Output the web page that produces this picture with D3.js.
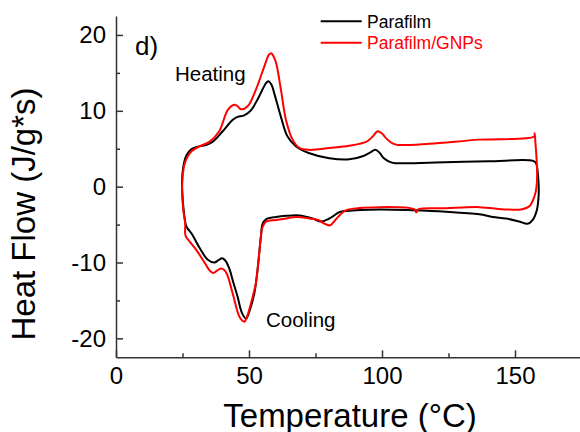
<!DOCTYPE html>
<html><head><meta charset="utf-8">
<script src="https://cdn.jsdelivr.net/npm/d3@7"></script>
<style>body{margin:0;background:#fff}svg{display:block}text{font-family:"Liberation Sans",Arial,sans-serif}</style>
</head><body>
<svg id="c" width="580" height="432"></svg>
<script>
// ---- data (temperature °C, heat flow J/g*s) ----
const xTicks = [0, 50, 100, 150];
const xMinorTicks = [25, 75, 125];
const yTicks = [-20, -10, 0, 10, 20];
const yMinorTicks = [-15, -5, 5, 15];
const seriesNames = ["Parafilm", "Parafilm/GNPs"];
const seriesColors = ["#000000", "#ff0000"];

const parafilm = [
  [24.8,0.3],[25.0,1.8],[25.6,3.2],[26.6,4.2],[28.2,4.9],[30.1,5.2],[33.8,5.5],[36.3,5.9],[40.1,7.3],
  [43.8,8.8],[45.7,9.2],[48.2,9.4],[50.8,10.1],[53.8,11.9],[56.3,13.6],[57.3,13.9],[58.5,13.4],[59.5,12.3],
  [62.0,9.2],[64.5,6.6],[67.7,5.3],[72.7,4.4],[80.2,3.75],[87.7,3.6],[92.7,4.0],[95.5,4.5],[97.5,4.85],
  [99.0,4.5],[100.5,3.8],[102.7,3.3],[105,3.1],[120,3.2],[140,3.35],[156.8,3.4],[157.9,3.1],[158.7,1.3],
  [158.9,-1.0],[158.2,-3.1],[156.6,-4.4],[154.7,-4.9],[151.6,-4.6],[146.6,-4.2],[141.6,-4.0],[136.6,-3.65],
  [124,-3.3],[111.5,-3.1],[99,-3.0],[86.5,-3.2],[84,-3.35],[82,-3.8],[80.2,-4.2],[77.1,-4.6],[73.9,-4.2],
  [68.9,-3.8],[64,-3.85],[60.2,-4.0],[56.4,-4.3],[55.1,-4.9],[54.5,-6.5],[53.2,-11.0],[52,-14.1],[50.1,-16.5],
  [48.9,-17.4],[47.3,-16.6],[45.7,-14.5],[44.0,-12.5],[42.6,-10.8],[41,-9.7],[39.8,-9.45],[38.5,-9.7],
  [37,-10.0],[34.4,-9.6],[31.3,-8.0],[28.8,-6.4],[26.9,-5.5],[26.3,-5.1],[25.3,-2.6],[24.8,0.3]
];
const parafilmGNPs = [
  [24.8,-0.5],[25.1,1.5],[25.7,2.9],[27.0,4.0],[28.5,4.7],[31.3,5.3],[35.1,5.9],[38.8,7.3],[42,10.1],
  [44.5,10.8],[45.7,10.6],[47,10.2],[49.5,10.6],[52.6,12.8],[55.8,15.9],[57.5,17.4],[58.3,17.6],[59.2,17.2],
  [60.2,16.3],[62,12.8],[63.9,8.8],[66.4,6.2],[68.9,5.1],[72.7,4.85],[80.2,5.1],[87.7,5.4],[94,5.9],
  [96.5,6.6],[98.3,7.3],[100,7.0],[101.5,6.4],[104,5.7],[106,5.5],[117.8,5.65],[136.6,6.2],[157.2,6.6],
  [157.4,7.05],[157.7,5.7],[158.3,2.2],[158.1,0],[157.3,-1.3],[155.4,-2.6],[152.3,-3.0],[146.6,-3.0],
  [136.6,-2.7],[124,-2.85],[113.6,-3.0],[112.9,-3.4],[112.2,-3.0],[99,-2.7],[86.5,-3.1],[84,-3.8],
  [82,-4.6],[80.5,-5.1],[78.5,-4.9],[76,-4.4],[72.7,-4.2],[67.7,-4.0],[64,-4.2],[60.2,-4.4],[56.4,-4.6],
  [55.1,-5.3],[54.5,-6.5],[53.5,-10],[52.6,-12.7],[51.4,-14.5],[49.5,-16.9],[48.3,-17.8],[47.3,-17.6],
  [46.2,-17.0],[43.8,-14.0],[41.8,-11.6],[40.7,-11.0],[39.5,-10.8],[38.3,-11.0],[36.5,-11.4],[35.1,-11.0],
  [33.8,-10.3],[30.1,-8.3],[27.6,-7.2],[26.3,-6.6],[26.0,-6.2],[26.0,-4.8],[25.3,-3.1],[24.8,-0.5]
];
const seriesData = [parafilm, parafilmGNPs];

// ---- drawing ----
const svg = d3.select("#c");
const x = d3.scaleLinear().domain([0, 175]).range([116, 581.5]);
const y = d3.scaleLinear().domain([-22.5, 22.5]).range([357.3, 16]);
const axisColor = "#333";

const line = d3.line().x(d => x(d[0])).y(d => y(d[1])).curve(d3.curveCatmullRom.alpha(0.5));
seriesData.forEach((s, i) => {
  svg.append("path").attr("d", line(s)).attr("fill", "none")
    .attr("stroke", seriesColors[i]).attr("stroke-width", 2).attr("stroke-linejoin", "round");
});

function styleAxis(g) {
  g.selectAll("path.domain").attr("stroke", axisColor).attr("stroke-width", 1.5);
  g.selectAll(".tick line").attr("stroke", axisColor).attr("stroke-width", 1.5);
  g.selectAll(".tick text").attr("fill", "#000").style("font-size", "24px")
    .style("font-family", '"Liberation Sans", Arial, sans-serif');
}

const gx = svg.append("g").attr("transform", `translate(0,${y(-22.5)})`)
  .call(d3.axisBottom(x).tickValues(xTicks).tickSizeInner(-7).tickSizeOuter(0).tickPadding(10).tickFormat(d3.format("d")));
styleAxis(gx);
const gxm = svg.append("g").attr("transform", `translate(0,${y(-22.5)})`)
  .call(d3.axisBottom(x).tickValues(xMinorTicks).tickSizeInner(-4).tickSizeOuter(0).tickFormat(""));
styleAxis(gxm); gxm.select("path.domain").remove();

const gy = svg.append("g").attr("transform", `translate(${x(0)},0)`)
  .call(d3.axisLeft(y).tickValues(yTicks).tickSizeInner(-7).tickSizeOuter(0).tickPadding(10).tickFormat(d3.format("d")));
styleAxis(gy);
gy.selectAll(".tick text").text(d => d < 0 ? "-" + Math.abs(d) : d);
const gym = svg.append("g").attr("transform", `translate(${x(0)},0)`)
  .call(d3.axisLeft(y).tickValues(yMinorTicks).tickSizeInner(-4).tickSizeOuter(0).tickFormat(""));
styleAxis(gym); gym.select("path.domain").remove();

// axis titles
svg.append("text").attr("x", 350).attr("y", 426.5).attr("text-anchor", "middle")
  .style("font-size", "33px").text("Temperature (°C)");
svg.append("text").attr("transform", "translate(35,214) rotate(-90)").attr("text-anchor", "middle")
  .style("font-size", "33px").text("Heat Flow (J/g*s)");

// annotations
svg.append("text").attr("x", 135).attr("y", 55).style("font-size", "26px").text("d)");
svg.append("text").attr("x", 175).attr("y", 81).style("font-size", "20.5px").text("Heating");
svg.append("text").attr("x", 266).attr("y", 327).style("font-size", "20.5px").text("Cooling");

// legend
const legY = [21.3, 42.7];
seriesNames.forEach((n, i) => {
  svg.append("line").attr("x1", 320.7).attr("x2", 361.7).attr("y1", legY[i]).attr("y2", legY[i])
    .attr("stroke", seriesColors[i]).attr("stroke-width", 2);
  svg.append("text").attr("x", 367).attr("y", legY[i] + 6.2).style("font-size", "17.5px")
    .attr("fill", seriesColors[i]).text(n);
});
</script>
</body></html>
